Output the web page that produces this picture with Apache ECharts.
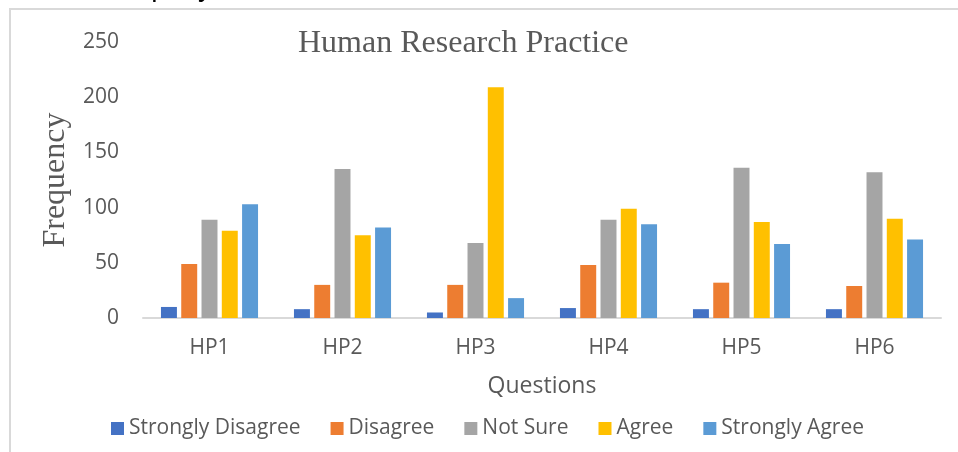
<!doctype html>
<html>
    <head>
        <meta charset="utf-8">
        <style>
            html, body { margin: 0; padding: 0; background: #fff; }
            #main { width: 958px; height: 452px; }
        </style>
    </head>
    <body>
        <div id="main"></div>
        <script src="https://cdn.jsdelivr.net/npm/echarts@6/dist/echarts.min.js"></script>
        <script>
            var chart = echarts.init(document.getElementById('main'));

            var questions = ['HP1', 'HP2', 'HP3', 'HP4', 'HP5', 'HP6'];
            var stronglyDisagree = [10, 8, 5, 9, 8, 8];
            var disagree = [49, 30, 30, 48, 32, 29];
            var notSure = [89, 135, 68, 89, 136, 132];
            var agree = [79, 75, 209, 99, 87, 90];
            var stronglyAgree = [103, 82, 18, 85, 67, 71];

            var names = ['Strongly Disagree', 'Disagree', 'Not Sure', 'Agree', 'Strongly Agree'];
            var colors = ['#4472C4', '#ED7D31', '#A5A5A5', '#FFC000', '#5B9BD5'];
            var values = [stronglyDisagree, disagree, notSure, agree, stronglyAgree];

            var sans = '"Open Sans", sans-serif';
            var serif = '"Liberation Serif", serif';

            var series = names.map(function (n, i) {
                return {
                    name: n,
                    type: 'bar',
                    data: values[i],
                    barGap: '27%',
                    barCategoryGap: '27%',
                    itemStyle: { color: colors[i] }
                };
            });

            chart.setOption({
                animation: false,
                color: colors,
                title: {
                    text: 'Human Research Practice',
                    left: 293,
                    top: 23,
                    textStyle: { fontFamily: serif, fontSize: 32, fontWeight: 'normal', color: '#595959' }
                },
                graphic: [
                    {
                        type: 'rect',
                        shape: { x: 10, y: 9, width: 960, height: 460 },
                        style: { fill: 'none', stroke: '#D9D9D9', lineWidth: 2 }
                    },
                    {
                        // cut-off line of the surrounding document
                        type: 'text',
                        x: 212,
                        y: 2,
                        style: {
                            text: 'performance of the company',
                            font: '28px "Liberation Sans", sans-serif',
                            fill: '#000',
                            align: 'right',
                            verticalAlign: 'bottom'
                        }
                    }
                ],
                legend: {
                    data: names,
                    left: 106,
                    top: 413,
                    itemWidth: 13,
                    itemHeight: 13,
                    itemGap: 30,
                    icon: 'rect',
                    textStyle: { fontFamily: sans, fontSize: 21, color: '#595959' }
                },
                grid: { left: 143, right: 17, top: 42, bottom: 134 },
                xAxis: {
                    type: 'category',
                    data: questions,
                    name: 'Questions',
                    nameLocation: 'middle',
                    nameGap: 57,
                    nameTextStyle: { fontFamily: sans, fontSize: 23, color: '#595959' },
                    axisLine: { lineStyle: { color: '#D9D9D9', width: 2 } },
                    axisTick: { show: false },
                    axisLabel: { margin: 20, fontFamily: sans, fontSize: 21, color: '#595959' }
                },
                yAxis: {
                    type: 'value',
                    min: 0,
                    max: 250,
                    interval: 50,
                    name: 'Frequency',
                    nameLocation: 'middle',
                    nameGap: 64,
                    nameTextStyle: { fontFamily: serif, fontSize: 32, color: '#595959' },
                    splitLine: { show: false },
                    axisLine: { show: false },
                    axisTick: { show: false },
                    axisLabel: { margin: 24, fontFamily: sans, fontSize: 21, color: '#595959' }
                },
                series: series
            });

            window.onresize = chart.resize;
        </script>
    </body>
</html>
